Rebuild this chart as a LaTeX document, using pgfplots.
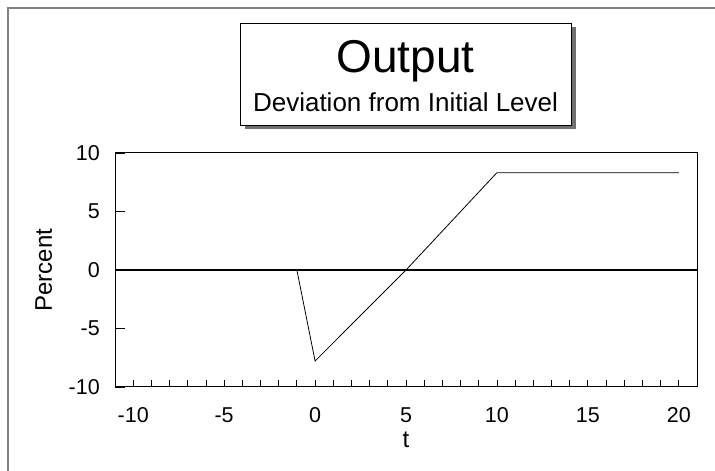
\documentclass[border=0pt]{standalone}
\usepackage{fontspec}
\setmainfont{Liberation Sans}
\usepackage{pgfplots}
\pgfplotsset{compat=1.18}
\definecolor{framegray}{RGB}{128,128,128}
\definecolor{shadowgray}{RGB}{112,112,112}
\begin{document}
\begin{tikzpicture}
\useasboundingbox (0pt,0pt) rectangle (715pt,471pt);
% outer frame, only top and left edges are visible
\draw[framegray, line width=1.6pt] (8pt,0pt) -- (8pt,463pt) -- (715pt,463pt);
% title box with drop shadow
\fill[shadowgray] (244.5pt,342pt) rectangle (576pt,444pt);
\draw[black, fill=white, line width=0.9pt] (240pt,346pt) rectangle (571.5pt,448pt);
\node[anchor=base, inner sep=0pt, font=\fontsize{46}{46}\selectfont] at (405.5pt,398pt) {Output};
\node[anchor=base, inner sep=0pt, font=\fontsize{26}{26}\selectfont] at (405.5pt,359.5pt) {Deviation from Initial Level};

\begin{axis}[
    at={(115pt,84pt)}, anchor=south west,
    scale only axis,
    width=582pt, height=234pt,
    xmin=-11, xmax=21,
    ymin=-10, ymax=10,
    xtick={-10,-5,0,5,10,15,20},
    xticklabels={-10,-5,0,5,10,15,20},
    minor xtick={-10,-9,...,20},
    ytick={-10,-5,0,5,10},
    yticklabels={-10,-5,0,5,10},
    xtick pos=bottom, ytick pos=left,
    tick align=inside,
    major tick length=10pt,
    minor tick length=7pt,
    major x tick style={draw=none},
    tick style={black, line width=0.8pt},
    axis line style={black, line width=1pt},
    yticklabel style={font=\fontsize{21.5}{21.5}\selectfont, inner sep=0pt, anchor=east, xshift=-15pt},
    xticklabel style={font=\fontsize{21.5}{21.5}\selectfont, inner sep=0pt, anchor=base, yshift=-36pt},
    clip=false,
]
\addplot[black, line width=1.2pt] coordinates {(-11,0) (21,0)};
\addplot[black, line width=0.8pt] coordinates {
    (-10,0) (-1,0) (0,-7.78) (5,0) (10,8.32) (20,8.32)};
\node[anchor=base, inner sep=0pt, font=\fontsize{24}{24}\selectfont]
    at ([yshift=-60pt]axis description cs:0.5,0) {t};
\node[anchor=base, rotate=90, inner sep=0pt, font=\fontsize{24}{24}\selectfont]
    at ([xshift=-63pt]axis description cs:0,0.5) {Percent};
\end{axis}
\end{tikzpicture}
\end{document}
